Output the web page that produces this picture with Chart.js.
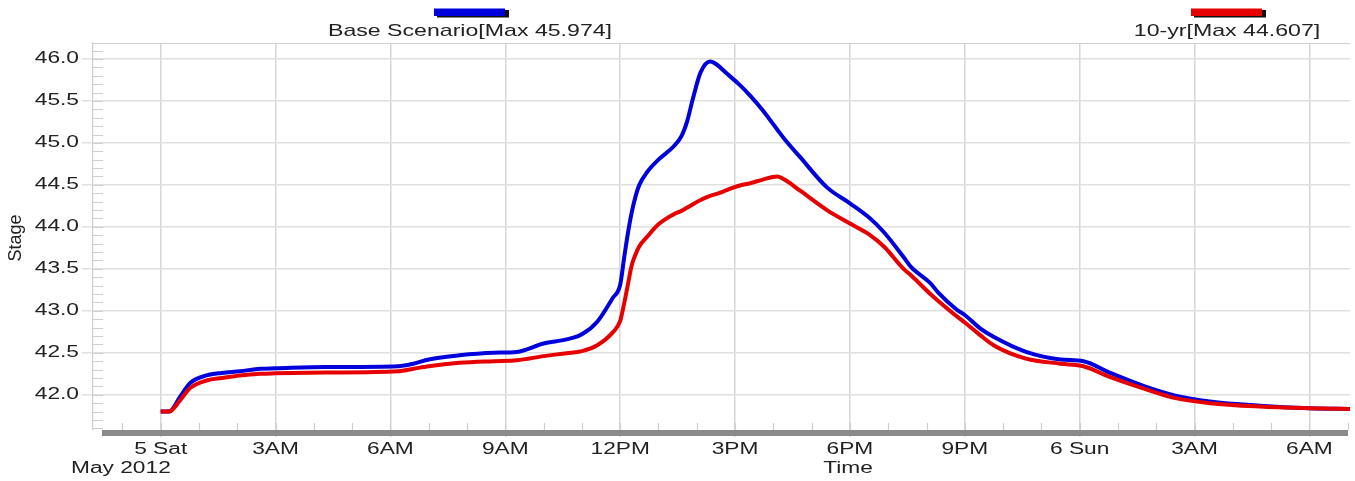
<!DOCTYPE html>
<html>
<head>
<meta charset="utf-8">
<script src="https://cdn.jsdelivr.net/npm/chart.js@4.4.0/dist/chart.umd.min.js"></script>
<style>
  html, body { margin: 0; padding: 0; background: #fff; }
  #wrap { width: 1355px; height: 481px; }
</style>
</head>
<body>
<div id="wrap"><canvas id="myChart" width="1355" height="481"></canvas></div>
<script>
// hours since 5 May 2012 00:00
const hours = [0, 0.22, 0.5, 0.77, 1.2, 1.6, 2.07, 2.6, 3, 4.3, 6.2, 6.6, 7, 7.8, 8.7, 9.3, 10, 10.6, 11, 11.4, 11.8,
  12, 12.1, 12.2, 12.3, 12.4, 12.5, 12.7, 13, 13.4, 13.6, 13.75, 13.9, 14.1, 14.35, 14.5, 14.8, 15.1, 15.4, 15.7,
  16.1, 16.3, 16.7, 17.4, 18, 18.5, 18.9, 19.4, 19.6, 20.1, 20.3, 20.8, 21, 21.4, 21.75, 22.6, 23.5, 24.1, 24.8,
  25.7, 26.5, 27.4, 28.7, 30, 31.1];

const baseStage = [41.80, 41.80, 41.97, 42.14, 42.23, 42.26, 42.28, 42.31, 42.315, 42.33, 42.34, 42.37, 42.42, 42.47,
  42.50, 42.51, 42.61, 42.66, 42.72, 42.87, 43.15, 43.31, 43.62, 43.92, 44.17, 44.36, 44.50, 44.65, 44.80, 44.96,
  45.08, 45.26, 45.53, 45.84, 45.97, 45.94, 45.82, 45.70, 45.56, 45.40, 45.16, 45.04, 44.83, 44.47, 44.28, 44.11,
  43.93, 43.64, 43.52, 43.33, 43.22, 43.01, 42.95, 42.79, 42.69, 42.51, 42.42, 42.40, 42.26, 42.10, 41.99, 41.92,
  41.87, 41.84, 41.83];

const tenYrStage = [41.80, 41.80, 41.93, 42.08, 42.17, 42.20, 42.23, 42.25, 42.255, 42.265, 42.28, 42.31, 42.34, 42.38,
  42.40, 42.41, 42.46, 42.495, 42.52, 42.59, 42.74, 42.88, 43.08, 43.31, 43.54, 43.67, 43.77, 43.88, 44.03, 44.15,
  44.19, 44.23, 44.27, 44.32, 44.37, 44.39, 44.44, 44.49, 44.52, 44.56, 44.60, 44.56, 44.43, 44.20, 44.04, 43.91,
  43.76, 43.50, 43.42, 43.20, 43.12, 42.93, 42.86, 42.71, 42.59, 42.43, 42.37, 42.34, 42.21, 42.07, 41.96, 41.90,
  41.86, 41.84, 41.83];

const xTickHours = [0, 3, 6, 9, 12, 15, 18, 21, 24, 27, 30];
const xTickLabels = ['5 Sat', '3AM', '6AM', '9AM', '12PM', '3PM', '6PM', '9PM', '6 Sun', '3AM', '6AM'];
const yTickValues = [42.0, 42.5, 43.0, 43.5, 44.0, 44.5, 45.0, 45.5, 46.0];

const seriesNames = ['Base Scenario[Max 45.974]', '10-yr[Max 44.607]'];
const seriesColors = ['#0000dc', '#e60000'];

const FONT = "'Liberation Sans', Arial, sans-serif";
const STRETCH = 1.42; // the source image is wider than tall, text comes out stretched

function wideText(ctx, text, x, y, align, sx, rot) {
  ctx.save();
  ctx.translate(x, y);
  ctx.scale(sx, 1);
  if (rot) ctx.rotate(rot);
  ctx.textAlign = align;
  ctx.fillText(text, 0, 0);
  ctx.restore();
}

const chrome = {
  id: 'chrome',
  beforeDatasetsDraw(chart) {
    const ctx = chart.ctx, a = chart.chartArea, xs = chart.scales.x, ys = chart.scales.y;
    ctx.save();
    ctx.strokeStyle = '#cfcfcf';
    ctx.lineWidth = 1.2;
    ctx.beginPath();
    // minor y ticks, inside the plot
    for (let k = 416; k <= 461; k++) {
      const py = Math.round(ys.getPixelForValue(k / 10)) + 0.5;
      ctx.moveTo(a.left, py);
      ctx.lineTo(a.left + 10, py);
    }
    // minor x ticks every hour
    for (let h = -1; h <= 31; h++) {
      const px = Math.round(xs.getPixelForValue(h)) + 0.5;
      ctx.moveTo(px, a.bottom - 7);
      ctx.lineTo(px, a.bottom);
    }
    // top border
    ctx.moveTo(a.left, a.top + 0.5);
    ctx.lineTo(a.right, a.top + 0.5);
    ctx.stroke();
    ctx.restore();
  },
  afterDraw(chart) {
    const ctx = chart.ctx, a = chart.chartArea, xs = chart.scales.x, ys = chart.scales.y;
    ctx.save();
    // thick time bar
    ctx.fillStyle = '#8a8a8a';
    ctx.fillRect(a.left + 9, a.bottom, a.right - a.left - 11, 6);

    ctx.fillStyle = '#222';
    ctx.font = '16px ' + FONT;
    // y tick labels
    ctx.textBaseline = 'middle';
    yTickValues.forEach(v => wideText(ctx, v.toFixed(1), 79, ys.getPixelForValue(v), 'right', STRETCH));
    // y title
    ctx.font = '18px ' + FONT;
    wideText(ctx, 'Stage', 16, 238, 'center', 1, -Math.PI / 2);

    // x tick labels
    ctx.font = '16px ' + FONT;
    ctx.textBaseline = 'alphabetic';
    xTickHours.forEach((h, i) => wideText(ctx, xTickLabels[i], xs.getPixelForValue(h), 454, 'center', STRETCH));
    wideText(ctx, 'May 2012', 71, 473, 'left', STRETCH);
    wideText(ctx, 'Time', 848, 473, 'center', STRETCH);

    // legend
    const centers = [470, 1227];
    ctx.font = '17px ' + FONT;
    centers.forEach((cx, i) => {
      ctx.fillStyle = '#111';
      ctx.fillRect(cx - 33, 10, 72, 7.5);
      ctx.fillStyle = seriesColors[i];
      ctx.fillRect(cx - 36, 8.5, 71, 7.5);
      ctx.fillStyle = '#222';
      wideText(ctx, seriesNames[i], cx, 36, 'center', 1.36);
    });
    ctx.restore();
  }
};

const ctx = document.getElementById('myChart').getContext('2d');
const myChart = new Chart(ctx, {
  type: 'line',
  data: {
    datasets: [{
      label: seriesNames[0],
      data: hours.map((h, i) => ({ x: h, y: baseStage[i] })),
      borderColor: seriesColors[0],
      borderWidth: 4,
      pointRadius: 0,
      cubicInterpolationMode: 'monotone',
      order: 1
    }, {
      label: seriesNames[1],
      data: hours.map((h, i) => ({ x: h, y: tenYrStage[i] })),
      borderColor: seriesColors[1],
      borderWidth: 4,
      pointRadius: 0,
      cubicInterpolationMode: 'monotone',
      order: 0
    }]
  },
  options: {
    responsive: false,
    animation: false,
    layout: { padding: { top: 43, right: 5, left: 0, bottom: 0 } },
    plugins: {
      legend: { display: false },
      tooltip: { enabled: false }
    },
    scales: {
      x: {
        type: 'linear',
        min: -1.768,
        max: 31.06,
        afterBuildTicks: (s) => { s.ticks = xTickHours.map(v => ({ value: v })); },
        afterFit: (s) => { s.height = 51; },
        ticks: { display: false },
        grid: { color: '#d6d6d6', lineWidth: 1.5, tickLength: 7 },
        border: { display: false }
      },
      y: {
        min: 41.58,
        max: 46.19,
        afterBuildTicks: (s) => { s.ticks = yTickValues.map(v => ({ value: v })); },
        afterFit: (s) => { s.width = 93; },
        ticks: { display: false },
        grid: { color: '#e0e0e0', lineWidth: 1.5, tickLength: 11 },
        border: { display: true, color: '#cfcfcf', width: 1.2 }
      }
    }
  },
  plugins: [chrome]
});
</script>
</body>
</html>
